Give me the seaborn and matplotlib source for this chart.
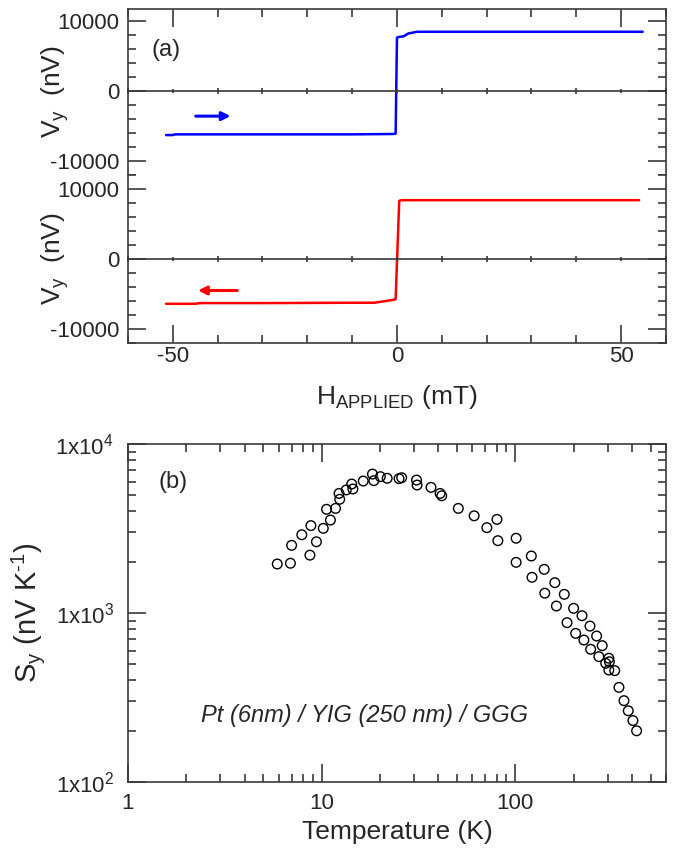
import math
import matplotlib
matplotlib.use("Agg")
import matplotlib.pyplot as plt
from matplotlib.ticker import MultipleLocator, LogLocator, FuncFormatter, NullFormatter
import pandas as pd
import seaborn as sns

# (a) field sweeps, H in mT, Vy in nV
h_up = [-51.5, -50, -49.5, -30, -10, -1, -0.3, 0, 0.3, 1.5, 2.5, 4.5, 6, 20, 40, 54.8]
v_up = [-6300, -6300, -6200, -6200, -6200, -6150, -6100, 7600, 7700, 7800, 8200, 8450, 8450, 8450, 8450, 8450]
h_down = [-51.5, -45, -44, -30, -10, -5, -3, -0.5, -0.3, 0.5, 1, 20, 40, 54]
v_down = [-6400, -6400, -6300, -6300, -6250, -6250, -6050, -5800, -5700, 8300, 8400, 8400, 8400, 8400]

# sweep direction arrows: (tail H, head H, Vy)
arrow_up = (-45.5, -36.5, -3600)
arrow_down = (-35, -45, -4500)

# (b) Sy vs temperature
temp_k = [5.9, 6.9, 8.7, 7.0, 7.9, 8.8, 9.4, 10.2, 11.1, 10.6, 11.8, 12.4, 12.3, 13.4,
          14.3, 14.5, 16.4, 18.3, 18.6, 20.1, 21.8, 25.1, 25.9, 30.9, 31.1, 36.7, 40.9,
          41.7, 50.8, 61.3, 71.3, 80.4, 81.3, 101, 101, 121, 122, 141, 142, 160, 163,
          179, 200, 185, 221, 205, 243, 226, 263, 245, 281, 270, 304, 293, 306, 304,
          326, 343, 364, 383, 405, 423]
s_y = [1950, 1970, 2200, 2515, 2905, 3290, 2640, 3170, 3550, 4110, 4160, 4710, 5100, 5350,
       5800, 5420, 6040, 6640, 6070, 6410, 6270, 6240, 6320, 6120, 5720, 5540, 5100,
       4940, 4160, 3760, 3200, 3580, 2680, 2770, 1995, 2175, 1627, 1813, 1310, 1512, 1100,
       1290, 1066, 877, 964, 758, 837, 692, 731, 610, 641, 552, 540, 504, 515, 460,
       456, 363, 303, 264, 231, 201]

sns.set_style("ticks")
plt.rcParams["font.family"] = ["Liberation Sans", "DejaVu Sans"]
plt.rcParams["mathtext.fontset"] = "custom"
plt.rcParams["mathtext.rm"] = "Liberation Sans"
plt.rcParams["mathtext.it"] = "Liberation Sans:italic"
plt.rcParams["axes.unicode_minus"] = False

spine_c = "#3a3a3a"
tick_fs = 16
label_fs = 19

L, W = 0.1893, 0.7959
fig = plt.figure(figsize=(6.76, 8.49), dpi=100)
ax_up = fig.add_axes([L, 0.7939, W, 0.1955])
ax_dn = fig.add_axes([L, 0.5960, W, 0.1979])
ax_b = fig.add_axes([L, 0.0789, W, 0.3981])

up_df = pd.DataFrame({"H": h_up, "V": v_up})
dn_df = pd.DataFrame({"H": h_down, "V": v_down})
sns.lineplot(data=up_df, x="H", y="V", sort=False, estimator=None, color="#0000ff", lw=1.8, ax=ax_up)
sns.lineplot(data=dn_df, x="H", y="V", sort=False, estimator=None, color="#ff0000", lw=1.8, ax=ax_dn)

for ax, arr, col in [(ax_up, arrow_up, "#0000ff"), (ax_dn, arrow_down, "#ff0000")]:
    ax.annotate("", xy=(arr[1], arr[2]), xytext=(arr[0], arr[2]),
                arrowprops=dict(arrowstyle="-|>,head_length=0.5,head_width=0.25", color=col, lw=2.2))


def x_ticks(ax, major=13, minor=6, direction="in"):
    ax.xaxis.set_major_locator(MultipleLocator(50))
    ax.xaxis.set_minor_locator(MultipleLocator(10))
    ax.tick_params(which="both", direction=direction, color=spine_c, width=1.2)
    ax.tick_params(which="major", length=major)
    ax.tick_params(which="minor", length=minor)


for ax, ylim in [(ax_up, (-12000, 11700)), (ax_dn, (-12000, 12000))]:
    ax.set_xlim(-60, 60)
    ax.set_ylim(*ylim)
    x_ticks(ax)
    ax.yaxis.set_major_locator(MultipleLocator(10000))
    ax.yaxis.set_minor_locator(MultipleLocator(2000))
    ax.tick_params(which="both", left=True, right=True, labelsize=tick_fs)
    ax.tick_params(axis="y", pad=6)
    ax.set_ylabel("V$_\\mathregular{y}$  (nV)", fontsize=label_fs)
    ax.yaxis.set_label_coords(-0.105, 0.5)
    for s in ax.spines.values():
        s.set_color(spine_c)
        s.set_linewidth(1.2)
    # zero line with small crossing ticks: overlay axes from V=0 upward
    pos = ax.get_position()
    frac = (0 - ylim[0]) / (ylim[1] - ylim[0])
    z = fig.add_axes([pos.x0, pos.y0 + pos.height * frac, pos.width, pos.height * (1 - frac)])
    z.patch.set_visible(False)
    z.set_xlim(-60, 60)
    z.set_yticks([])
    for k in ("top", "left", "right"):
        z.spines[k].set_visible(False)
    z.spines["bottom"].set_color(spine_c)
    z.spines["bottom"].set_linewidth(1.2)
    x_ticks(z, major=3, minor=5, direction="inout")
    z.tick_params(which="both", bottom=True, top=False, labelbottom=False)

ax_up.spines["bottom"].set_visible(False)
ax_up.tick_params(which="both", bottom=False, labelbottom=False, top=True)
ax_up.set_xlabel("")
ax_dn.spines["top"].set_visible(False)
ax_dn.tick_params(which="both", top=False, bottom=True)
ax_dn.tick_params(axis="x", pad=2)
ax_dn.set_xlabel("H$_\\mathregular{APPLIED}$ (mT)", fontsize=label_fs)
ax_dn.xaxis.set_label_coords(0.5, -0.24)
ax_up.text(0.071, 0.754, "(a)", transform=ax_up.transAxes, fontsize=17, ha="center", va="center")

# (b)
ax_b.set_xscale("log")
ax_b.set_yscale("log")
sns.scatterplot(x=temp_k, y=s_y, marker="o", s=48, facecolor="none", edgecolor="black",
                linewidth=1.0, ax=ax_b)
ax_b.set_xlim(1, 600)
ax_b.set_ylim(100, 10000)
ax_b.xaxis.set_major_locator(LogLocator(base=10))
ax_b.xaxis.set_minor_locator(LogLocator(base=10, subs=range(2, 10)))
ax_b.yaxis.set_major_locator(LogLocator(base=10))
ax_b.yaxis.set_minor_locator(LogLocator(base=10, subs=range(2, 10)))
ax_b.xaxis.set_major_formatter(FuncFormatter(lambda v, p: f"{v:g}"))
ax_b.xaxis.set_minor_formatter(NullFormatter())
ax_b.yaxis.set_major_formatter(FuncFormatter(
    lambda v, p: "1x10$^\\mathregular{%d}$" % round(math.log10(v))))
ax_b.yaxis.set_minor_formatter(NullFormatter())
ax_b.tick_params(which="both", direction="in", top=True, right=True, color=spine_c,
                 labelsize=tick_fs, width=1.2)
ax_b.tick_params(which="major", length=13)
ax_b.tick_params(which="minor", length=6)
ax_b.tick_params(axis="x", pad=8)
ax_b.tick_params(axis="y", pad=10)
for s in ax_b.spines.values():
    s.set_color(spine_c)
    s.set_linewidth(1.2)
ax_b.set_xlabel("Temperature (K)", fontsize=label_fs)
ax_b.xaxis.set_label_coords(0.5, -0.112)
ax_b.set_ylabel("S$_\\mathregular{y}$ (nV K$^\\mathregular{\\text{-}1}$)", fontsize=21)
ax_b.yaxis.set_label_coords(-0.15, 0.5)
ax_b.text(0.084, 0.888, "(b)", transform=ax_b.transAxes, fontsize=17, ha="center", va="center")
ax_b.text(0.439, 0.198, "Pt (6nm) / YIG (250 nm) / GGG", transform=ax_b.transAxes,
          fontsize=17, style="italic", ha="center", va="center")

fig.savefig("out.png", dpi=100)
